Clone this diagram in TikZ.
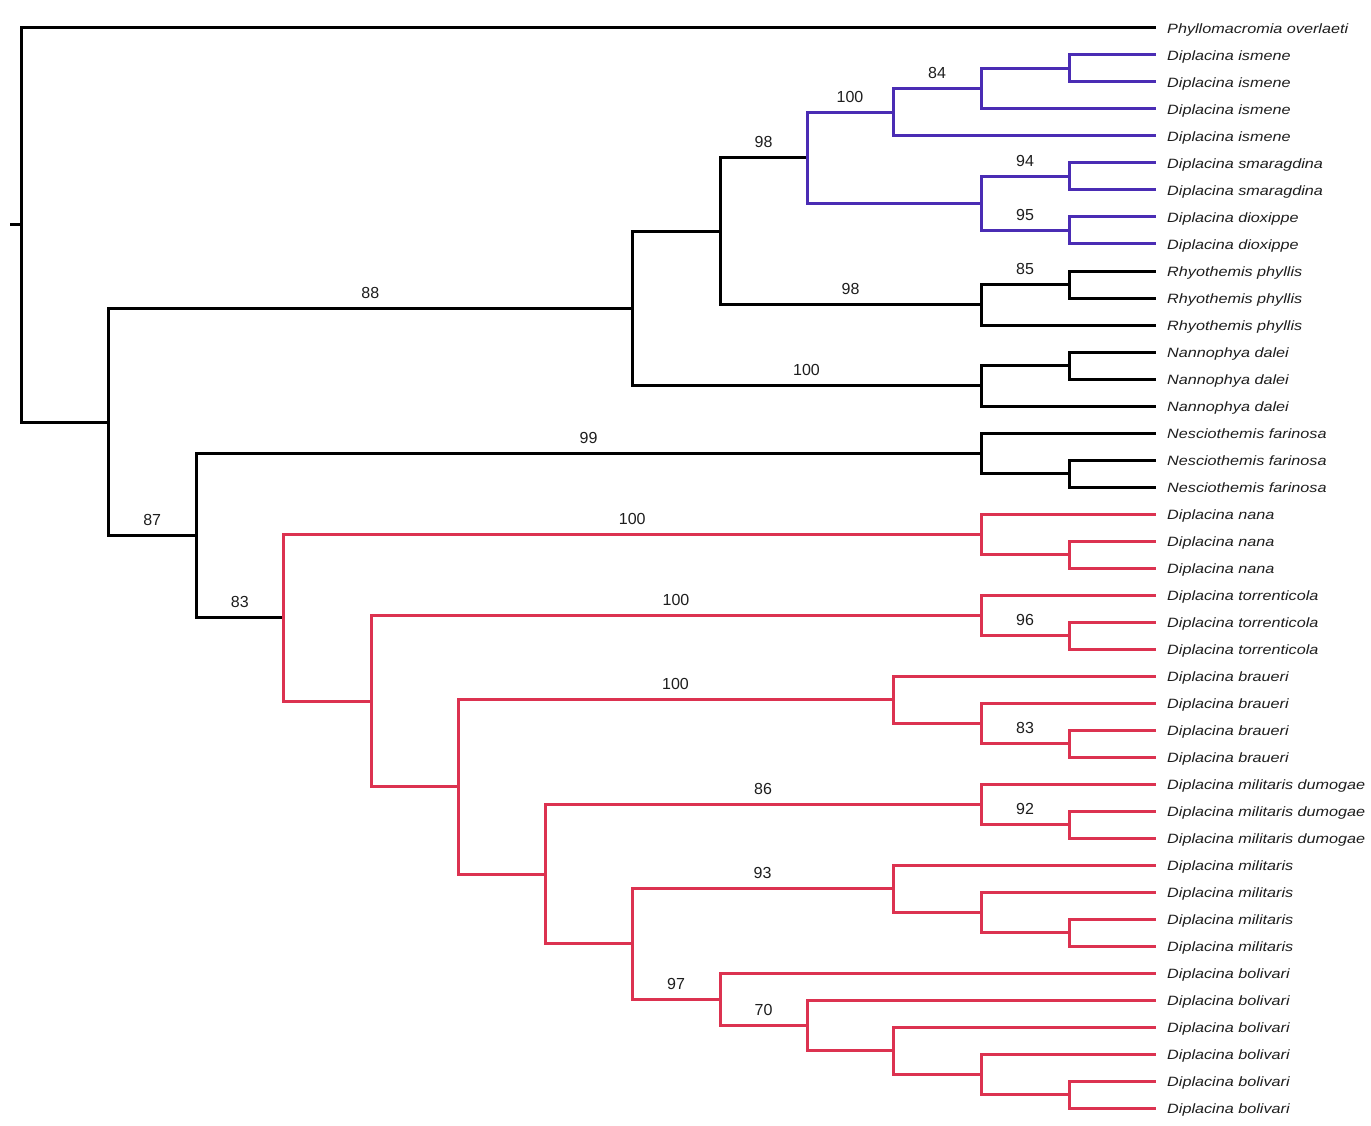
\documentclass[tikz,border=0pt]{standalone}
\usepackage{fontspec}
\setmainfont{Liberation Sans}
\newfontfamily\taxfont{Liberation Sans}[FakeStretch=1.2]
\definecolor{cpurp}{RGB}{74,44,180}
\definecolor{cred}{RGB}{220,50,80}
\definecolor{ctext}{RGB}{30,30,30}
\begin{document}
\begin{tikzpicture}[x=1pt,y=-1pt,
  br/.style={line width=3pt},
  bk/.style={br,draw=black},
  pu/.style={br,draw=cpurp},
  rd/.style={br,draw=cred},
  bs/.style={pos=0.75,anchor=base,yshift=10pt,inner sep=0pt,text=ctext,font=\fontsize{16}{18}\selectfont},
  taxon/.style={anchor=base west,inner sep=0pt,text=ctext,font=\taxfont\itshape\fontsize{13.5}{16}\selectfont}]
\useasboundingbox[fill=white] (0,0) rectangle (1371,1126);
% leaf tips
\foreach \i in {0,...,40} \coordinate (e\i) at (1156,{28+27*\i});
% leaf labels
\foreach \i/\nm in {0/Phyllomacromia overlaeti,
  1/Diplacina ismene,2/Diplacina ismene,3/Diplacina ismene,4/Diplacina ismene,
  5/Diplacina smaragdina,6/Diplacina smaragdina,7/Diplacina dioxippe,8/Diplacina dioxippe,
  9/Rhyothemis phyllis,10/Rhyothemis phyllis,11/Rhyothemis phyllis,
  12/Nannophya dalei,13/Nannophya dalei,14/Nannophya dalei,
  15/Nesciothemis farinosa,16/Nesciothemis farinosa,17/Nesciothemis farinosa,
  18/Diplacina nana,19/Diplacina nana,20/Diplacina nana,
  21/Diplacina torrenticola,22/Diplacina torrenticola,23/Diplacina torrenticola,
  24/Diplacina braueri,25/Diplacina braueri,26/Diplacina braueri,27/Diplacina braueri,
  28/Diplacina militaris dumogae,29/Diplacina militaris dumogae,30/Diplacina militaris dumogae,
  31/Diplacina militaris,32/Diplacina militaris,33/Diplacina militaris,34/Diplacina militaris,
  35/Diplacina bolivari,36/Diplacina bolivari,37/Diplacina bolivari,38/Diplacina bolivari,
  39/Diplacina bolivari,40/Diplacina bolivari}
  \node[taxon] (n\i) at ([xshift=11pt,yshift=-5.5pt]e\i) {\nm};
% internal nodes
\coordinate (rt) at (10,225);
\coordinate (root) at (21,225);
\coordinate (A) at (108.5,422);
\coordinate (B) at (632,308.55);
\coordinate (C) at (196,535.45);
\coordinate (D) at (720,231.34);
\coordinate (E) at (981,385.75);
\coordinate (F) at (807,157.94);
\coordinate (G) at (981,304.75);
\coordinate (H) at (893,112.38);
\coordinate (I) at (981,203.5);
\coordinate (J) at (981,88.75);
\coordinate (K) at (1069,68.5);
\coordinate (L) at (1069,176.5);
\coordinate (M) at (1069,230.5);
\coordinate (N) at (1069,284.5);
\coordinate (O) at (1069,365.5);
\coordinate (P) at (981,453.25);
\coordinate (Q) at (283.5,617.65);
\coordinate (R) at (1069,473.5);
\coordinate (S) at (981,534.25);
\coordinate (T) at (371,701.05);
\coordinate (U) at (1069,554.5);
\coordinate (V) at (981,615.25);
\coordinate (W) at (458,786.85);
\coordinate (X) at (1069,635.5);
\coordinate (Y) at (893,699.63);
\coordinate (Z) at (545,874.07);
\coordinate (AA) at (981,723.25);
\coordinate (AB) at (1069,743.5);
\coordinate (AC) at (981,804.25);
\coordinate (AM) at (1069,824.5);
\coordinate (AD) at (632,943.89);
\coordinate (AE) at (893,888.63);
\coordinate (AG) at (981,912.25);
\coordinate (AH) at (1069,932.5);
\coordinate (AF) at (720,999.16);
\coordinate (AI) at (807,1025.31);
\coordinate (AJ) at (893,1050.63);
\coordinate (AK) at (981,1074.25);
\coordinate (AL) at (1069,1094.5);
% black backbone
\draw[bk] (rt) -- (root);
\draw[bk] (root) |- (e0);
\draw[bk] (root) |- (A);
\draw[bk] (A) |- node[bs]{88} (B);
\draw[bk] (A) |- node[bs]{87} (C);
\draw[bk] (B) |- (D);
\draw[bk] (B) |- node[bs]{100} (E);
\draw[bk] (D) |- node[bs]{98} (F);
\draw[bk] (D) |- node[bs]{98} (G);
\draw[bk] (G) |- node[bs]{85} (N);
\draw[bk] (G) |- (e11);
\draw[bk] (N) |- (e9);
\draw[bk] (N) |- (e10);
\draw[bk] (E) |- (O);
\draw[bk] (E) |- (e14);
\draw[bk] (O) |- (e12);
\draw[bk] (O) |- (e13);
\draw[bk] (C) |- node[bs]{99} (P);
\draw[bk] (C) |- node[bs]{83} (Q);
\draw[bk] (P) |- (e15);
\draw[bk] (P) |- (R);
\draw[bk] (R) |- (e16);
\draw[bk] (R) |- (e17);
% purple clade
\draw[pu] (F) |- node[bs]{100} (H);
\draw[pu] (F) |- (I);
\draw[pu] (H) |- node[bs]{84} (J);
\draw[pu] (H) |- (e4);
\draw[pu] (J) |- (K);
\draw[pu] (J) |- (e3);
\draw[pu] (K) |- (e1);
\draw[pu] (K) |- (e2);
\draw[pu] (I) |- node[bs]{94} (L);
\draw[pu] (I) |- node[bs]{95} (M);
\draw[pu] (L) |- (e5);
\draw[pu] (L) |- (e6);
\draw[pu] (M) |- (e7);
\draw[pu] (M) |- (e8);
% red clade
\draw[rd] (Q) |- node[bs]{100} (S);
\draw[rd] (Q) |- (T);
\draw[rd] (S) |- (e18);
\draw[rd] (S) |- (U);
\draw[rd] (U) |- (e19);
\draw[rd] (U) |- (e20);
\draw[rd] (T) |- node[bs]{100} (V);
\draw[rd] (T) |- (W);
\draw[rd] (V) |- (e21);
\draw[rd] (V) |- node[bs]{96} (X);
\draw[rd] (X) |- (e22);
\draw[rd] (X) |- (e23);
\draw[rd] (W) |- node[bs]{100} (Y);
\draw[rd] (W) |- (Z);
\draw[rd] (Y) |- (e24);
\draw[rd] (Y) |- (AA);
\draw[rd] (AA) |- (e25);
\draw[rd] (AA) |- node[bs]{83} (AB);
\draw[rd] (AB) |- (e26);
\draw[rd] (AB) |- (e27);
\draw[rd] (Z) |- node[bs]{86} (AC);
\draw[rd] (Z) |- (AD);
\draw[rd] (AC) |- (e28);
\draw[rd] (AC) |- node[bs]{92} (AM);
\draw[rd] (AM) |- (e29);
\draw[rd] (AM) |- (e30);
\draw[rd] (AD) |- node[bs]{93} (AE);
\draw[rd] (AD) |- node[bs]{97} (AF);
\draw[rd] (AE) |- (e31);
\draw[rd] (AE) |- (AG);
\draw[rd] (AG) |- (e32);
\draw[rd] (AG) |- (AH);
\draw[rd] (AH) |- (e33);
\draw[rd] (AH) |- (e34);
\draw[rd] (AF) |- (e35);
\draw[rd] (AF) |- node[bs]{70} (AI);
\draw[rd] (AI) |- (e36);
\draw[rd] (AI) |- (AJ);
\draw[rd] (AJ) |- (e37);
\draw[rd] (AJ) |- (AK);
\draw[rd] (AK) |- (e38);
\draw[rd] (AK) |- (AL);
\draw[rd] (AL) |- (e39);
\draw[rd] (AL) |- (e40);
\end{tikzpicture}
\end{document}
